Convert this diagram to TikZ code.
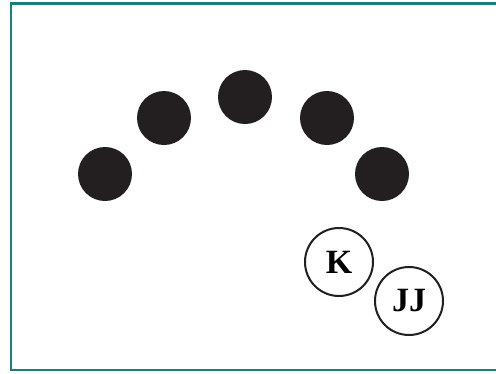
\documentclass[tikz,border=0pt]{standalone}
\usepackage{fontspec}
\setmainfont{Liberation Serif}
\definecolor{frameteal}{HTML}{1A7F7A}
\definecolor{dotblack}{HTML}{231F20}
\begin{document}
\begin{tikzpicture}[x=1pt,y=-1pt,
  dot/.style={circle,fill=dotblack,minimum size=54pt,inner sep=0pt},
  ring/.style={circle,draw=dotblack,line width=2pt,minimum size=68pt,inner sep=0pt,font=\fontsize{34}{34}\selectfont\bfseries}]
\useasboundingbox (0,0) rectangle (496,373);
\clip (0,0) rectangle (496,373);
\fill[white] (0,0) rectangle (496,373);
\draw[frameteal,line width=2.5pt] (11,3.5) rectangle (520,370);
\node[dot] (d1) at (105,174) {};
\node[dot] (d2) at (164,118) {};
\node[dot] (d3) at (245,97) {};
\node[dot] (d4) at (327,118) {};
\node[dot] (d5) at (382,174) {};
\node[ring] (k) at (339,262) {K};
\node[ring] (jj) at (409,301) {JJ};
\end{tikzpicture}
\end{document}
